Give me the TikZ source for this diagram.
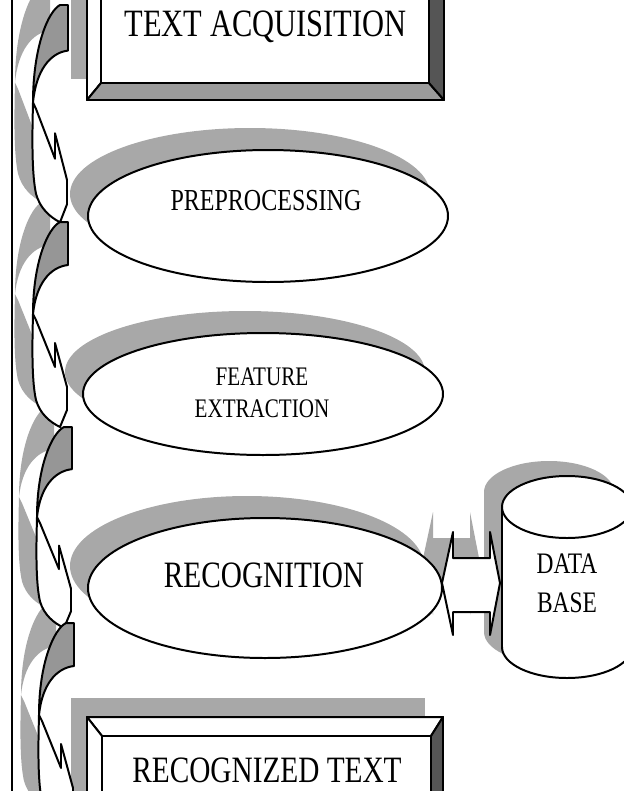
\documentclass[tikz,border=0pt]{standalone}
\usepackage{fontspec}
\setmainfont{Liberation Serif}
\usepackage{graphicx}
\usetikzlibrary{positioning, shapes.geometric, shadows}

\definecolor{shadecol}{RGB}{168,168,168}
\definecolor{backgrey}{RGB}{150,150,150}
\definecolor{bevelmid}{RGB}{155,155,155}
\definecolor{beveldark}{RGB}{85,85,85}

% the lettering is stretched upwards a little
\newcommand{\tall}[1]{\scalebox{1}[1.27]{#1}}

% curved arrow, local units, origin at the top right of its turned-back end
\newcommand{\arrowback}{(-8,0) -- (0,0) -- (0,43) .. controls (-18,45) and (-32,62) .. (-35,92) .. controls (-35,40) and (-20,6) .. cycle}
\newcommand{\arrowfront}{(-35,92) .. controls (-36,130) and (-36,160) .. (-32,178) .. controls (-28,192) and (-18,200) .. (-8,205) -- (-1,188) -- (-1,165) -- (-13,121) -- (-13,145) -- (-32,98) -- cycle}

% two headed block arrow between recognition and the data base
\newcommand{\dbarrow}{(442,583) -- (453,532) -- (453,558) -- (490,558) -- (490,532) -- (500,583) -- (490,635) -- (490,612) -- (453,612) -- (453,635) -- cycle}

% bevelled frame drawn over a rectangle node: #1 node, #2..#5 insets left/top/right/bottom
\newcommand{\bevelframe}[5]{%
  \coordinate (#1-inw) at ([shift={(#2,#3)}]#1.north west);
  \coordinate (#1-ine) at ([shift={(-#4,#3)}]#1.north east);
  \coordinate (#1-ise) at ([shift={(-#4,-#5)}]#1.south east);
  \coordinate (#1-isw) at ([shift={(#2,-#5)}]#1.south west);
  \draw[outline, fill=white] (#1.north west) -- (#1.north east) -- (#1-ine) -- (#1-inw) -- cycle;
  \draw[outline, fill=white] (#1.north west) -- (#1-inw) -- (#1-isw) -- (#1.south west) -- cycle;
  \draw[outline, fill=bevelmid] (#1.south west) -- (#1-isw) -- (#1-ise) -- (#1.south east) -- cycle;
  \draw[outline, fill=beveldark] (#1.north east) -- (#1.south east) -- (#1-ise) -- (#1-ine) -- cycle;
  \draw[outline, fill=white] (#1-inw) rectangle (#1-ise);
}

\begin{document}
\begin{tikzpicture}[
    x=0.3mm, y=-0.3mm,
    outline/.style={draw=black, line width=1.7pt, line join=round},
    stage/.style={ellipse, outline, fill=white, inner sep=0pt,
        general shadow={shadow xshift=-5.4mm, shadow yshift=6.6mm, fill=shadecol}},
    framebox/.style={rectangle, outline, fill=white, inner sep=0pt,
        general shadow={shadow xshift=-5.1mm, shadow yshift=6mm, fill=shadecol}},
    caption/.style={inner sep=0pt, anchor=base},
    shade/.style={fill=shadecol, draw=none},
    back/.style={outline, fill=backgrey},
    face/.style={outline, fill=white}
]

    \useasboundingbox (0,0) rectangle (624,791);
    \clip (0,0) rectangle (624,791);

    % --- SHADOWS OF THE FREE SHAPES ---
    \foreach \bx/\by/\sy in {68/5/1.06, 68/222/1.0, 72/427/0.98, 74/623/1.0}
        \fill[shade, shift={(\bx-18,\by-20)}, yscale=\sy] \arrowback \arrowfront;
    \fill[shade, shift={(-20,-20)}] \dbarrow;
    \fill[shade, shift={(-18,-15)}] (502,507) -- (502,647)
        arc[start angle=180, end angle=0, x radius=65, y radius=31] -- (632,507)
        arc[start angle=0, end angle=-180, x radius=65, y radius=31] -- cycle;

    % --- STAGES ---
    \node[framebox, minimum width=106.5mm, minimum height=41.7mm] (acq) at (265.5,29.5) {};
    \bevelframe{acq}{14}{15}{15}{17}
    \node[caption, font=\fontsize{26}{30}\selectfont] (acq-text) at ([shift={(0,6.5)}]acq.center) {\tall{TEXT ACQUISITION}};

    \node[stage, minimum width=108mm, minimum height=39.6mm] (pre) at (268,216) {};
    \node[caption, font=\fontsize{20.5}{24}\selectfont] (pre-text) at ([shift={(-2,-6)}]pre.center) {\tall{PREPROCESSING}};

    \node[stage, minimum width=108mm, minimum height=36.6mm] (feat) at (263,394) {};
    \node[caption, font=\fontsize{18}{21}\selectfont] (feat-text1) at ([shift={(-1,-9)}]feat.center) {\tall{FEATURE}};
    \node[caption, font=\fontsize{18}{21}\selectfont] (feat-text2) at ([shift={(0,32)}]feat-text1.base) {\tall{EXTRACTION}};

    \node[stage, minimum width=106.2mm, minimum height=42mm] (rec) at (265,588) {};
    \node[caption, font=\fontsize{25}{30}\selectfont] (rec-text) at ([shift={(-1,-1)}]rec.center) {\tall{RECOGNITION}};

    \node[framebox, minimum width=106.2mm, minimum height=42.6mm] (out) at (265,789) {};
    \bevelframe{out}{15}{19}{12}{17}
    \node[caption, font=\fontsize{25}{30}\selectfont] (out-text) at ([shift={(2,-7)}]out.center) {\tall{RECOGNIZED TEXT}};

    % --- DATA BASE ---
    \fill[white] (502,507) -- (502,647)
        arc[start angle=180, end angle=0, x radius=65, y radius=31] -- (632,507) -- cycle;
    \draw[outline] (502,507) -- (502,647)
        arc[start angle=180, end angle=0, x radius=65, y radius=31] -- (632,507);
    \draw[outline, fill=white] (567,507) ellipse [x radius=65, y radius=31];
    \node[caption, font=\fontsize{20}{24}\selectfont] (db) at (567,573) {\tall{DATA}};
    \node[caption, font=\fontsize{20}{24}\selectfont] (db-text2) at ([shift={(0,39)}]db.base) {\tall{BASE}};

    \draw[face] \dbarrow;

    % --- FLOW ARROWS DOWN THE LEFT SIDE ---
    \draw[line width=2.2pt] (12,0) -- (12,791);
    \foreach \bx/\by/\sy in {68/5/1.06, 68/222/1.0, 72/427/0.98, 74/623/1.0} {
        \begin{scope}[shift={(\bx,\by)}, yscale=\sy]
            \draw[back] \arrowback;
            \draw[face] \arrowfront;
        \end{scope}
    }

\end{tikzpicture}
\end{document}
